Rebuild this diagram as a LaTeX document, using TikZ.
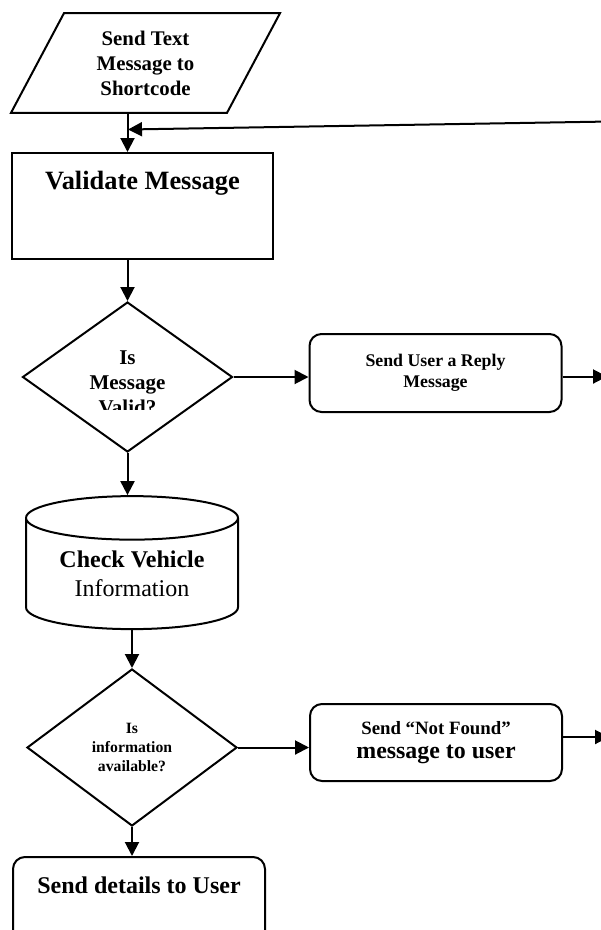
\documentclass[tikz,border=0pt]{standalone}
\usepackage{fontspec}
\setmainfont{Liberation Serif}
\usetikzlibrary{shapes.geometric,arrows.meta}

\begin{document}
\begin{tikzpicture}[x=1pt, y=-1pt, line width=2pt, >={Triangle[length=14pt,width=14pt]},
    every node/.style={align=center, inner sep=0pt},
    io/.style={draw, trapezium, trapezium left angle=62, trapezium right angle=118,
        trapezium stretches body, inner ysep=17.5pt, minimum width=269pt},
    process/.style={draw, rectangle, minimum width=261pt, minimum height=106pt},
    decision/.style={draw, diamond, minimum width=210pt},
    reply/.style={draw, rectangle, rounded corners=12pt, minimum width=252pt},
    store/.style={draw, cylinder, shape border rotate=90, aspect=0.3,
        minimum width=212pt, minimum height=133pt}]
    \useasboundingbox (0,0) rectangle (601,930);

    % shapes
    \node[io, font=\fontsize{20.8}{25}\selectfont\bfseries] (sendtext) at (145.5,63) {Send Text\\Message to\\Shortcode};
    \node[process, font=\fontsize{26.4}{31.7}\selectfont\bfseries] (validate) at (142.5,206) {Validate Message\\[19pt]\mbox{}};
    \node[decision, minimum height=150pt] (isvalid) at (127.5,377) {};
    \begin{scope}
        \clip (0,0) rectangle (601,409);
        \node[font=\fontsize{21}{25}\selectfont\bfseries] (isvalidtext) at (127.5,383) {Is\\Message\\Valid?};
    \end{scope}
    \node[reply, minimum height=78pt, font=\fontsize{17.8}{21}\selectfont\bfseries] (replymsg) at (435.5,373) {Send User a Reply\\Message};
    \node[store, font=\fontsize{24}{29}\selectfont] (vehicle) at (132,574) {\textbf{Check Vehicle}\\Information};
    \node[decision, minimum height=157pt, font=\fontsize{15.7}{19}\selectfont\bfseries] (isavail) at (132,747.5) {Is\\information\\available?};
    \node[reply, minimum height=77pt, font=\fontsize{23.9}{24}\selectfont\bfseries] (notfound) at (436,742.5) {{\fontsize{18.8}{22}\selectfont Send “Not Found”}\\message to user};
    \node[reply, minimum height=93pt, font=\fontsize{24}{28.8}\selectfont\bfseries] (details) at (139,903.5) {Send details to User\\[7pt]\mbox{}};

    % loose ends at the page edge
    \coordinate (loopin) at (610,121.5);
    \coordinate (merge) at (128,129.5);
    \coordinate (replyout) at (607,376.5);
    \coordinate (notfoundout) at (609,737);

    % connectors
    \draw[->] (sendtext.south -| isvalid.north) -- (validate.north -| isvalid.north);
    \draw[->] (loopin) -- (merge);
    \draw[->] (validate.south -| isvalid.north) -- (isvalid.north);
    \draw[->] (isvalid.east) -- (isvalid.east -| replymsg.west);
    \draw[->] (replymsg.east |- replyout) -- (replyout);
    \draw[->] (isvalid.south) -- (isvalid.south |- vehicle.north);
    \draw[->] (vehicle.south) -- (isavail.north);
    \draw[->] (isavail.east) -- (isavail.east -| notfound.west);
    \draw[->] (notfound.east |- notfoundout) -- (notfoundout);
    \draw[->] (isavail.south) -- (details.north -| isavail.south);
\end{tikzpicture}
\end{document}
